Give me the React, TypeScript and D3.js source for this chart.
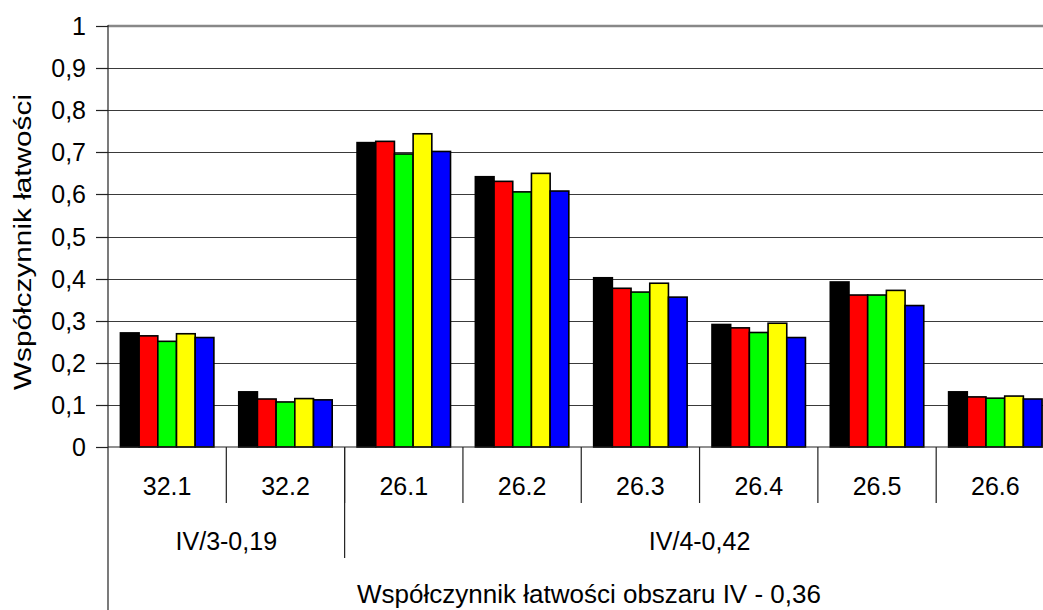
import React from "react";
import * as d3 from "d3";

// -- DATA --
const categories = ["32.1", "32.2", "26.1", "26.2", "26.3", "26.4", "26.5", "26.6"];
const groups = [
  { label: "IV/3-0,19", from: 0, to: 2 },
  { label: "IV/4-0,42", from: 2, to: 8 },
];
const areaLabel = "Współczynnik łatwości obszaru IV - 0,36";
const yTitle = "Współczynnik łatwości";
const seriesNames = ["s1", "s2", "s3", "s4", "s5"];
const seriesColors = ["#000000", "#ff0000", "#00ff00", "#ffff00", "#0000ff"];
const s1 = [0.271, 0.131, 0.723, 0.642, 0.402, 0.291, 0.392, 0.131];
const s2 = [0.264, 0.114, 0.726, 0.631, 0.377, 0.283, 0.361, 0.119];
const s3 = [0.251, 0.107, 0.696, 0.606, 0.368, 0.272, 0.361, 0.116];
const s4 = [0.269, 0.115, 0.744, 0.65, 0.389, 0.294, 0.372, 0.121];
const s5 = [0.26, 0.112, 0.702, 0.608, 0.356, 0.26, 0.336, 0.114];
const seriesValues = [s1, s2, s3, s4, s5];
const yTicks = [0, 0.1, 0.2, 0.3, 0.4, 0.5, 0.6, 0.7, 0.8, 0.9, 1];

const FONT = "'Liberation Sans', Arial, sans-serif";

const App = () => {
  const svgRef = React.useRef(null);
  const width = 1043;
  const height = 610;

  React.useEffect(() => {
    document.body.style.margin = "0";
    const svg = d3.select(svgRef.current);
    svg.selectAll("*").remove();

    // plot box; the right side runs past the picture edge
    const left = 108;
    const top = 26;
    const bottom = 447;
    const right = 1054.5;

    const y = d3.scaleLinear().domain([0, 1]).range([bottom, top]);
    const x0 = d3
      .scaleBand()
      .domain(categories)
      .range([left, right])
      .paddingInner(0.21)
      .paddingOuter(0.105);
    const x1 = d3.scaleBand().domain(seriesNames).range([0, x0.bandwidth()]);
    const step = x0.step();
    const edge = (i) => left + i * step; // category boundary

    // gridlines
    svg
      .append("g")
      .selectAll("line")
      .data(yTicks.filter((t) => t > 0 && t < 1))
      .enter()
      .append("line")
      .attr("x1", left)
      .attr("x2", width)
      .attr("y1", (d) => Math.round(y(d)) + 0.5)
      .attr("y2", (d) => Math.round(y(d)) + 0.5)
      .style("stroke", "#3a3a3a")
      .style("stroke-width", 1);
    // top border
    svg
      .append("line")
      .attr("x1", left)
      .attr("x2", width)
      .attr("y1", top)
      .attr("y2", top)
      .style("stroke", "#888")
      .style("stroke-width", 2.5);

    // bars
    const bars = [];
    categories.forEach((c, ci) => {
      seriesNames.forEach((s, si) => {
        bars.push({ c, s, si, v: seriesValues[si][ci] });
      });
    });
    svg
      .append("g")
      .selectAll("rect")
      .data(bars)
      .enter()
      .append("rect")
      .attr("x", (d) => x0(d.c) + x1(d.s))
      .attr("y", (d) => y(d.v))
      .attr("width", x1.bandwidth())
      .attr("height", (d) => bottom - y(d.v))
      .style("fill", (d) => seriesColors[d.si])
      .style("stroke", "#000")
      .style("stroke-width", 1.6);

    // axes
    const ax = svg.append("g").style("stroke", "#222").style("stroke-width", 1.2);
    ax.append("line").attr("x1", left).attr("x2", left).attr("y1", top - 1).attr("y2", height);
    ax.append("line").attr("x1", left).attr("x2", width).attr("y1", bottom).attr("y2", bottom);
    ax.selectAll("tick")
      .data(yTicks)
      .enter()
      .append("line")
      .attr("x1", left - 12)
      .attr("x2", left)
      .attr("y1", (d) => Math.round(y(d)) + 0.5)
      .attr("y2", (d) => Math.round(y(d)) + 0.5);
    // category dividers
    ax.selectAll("div1")
      .data(d3.range(1, categories.length + 1))
      .enter()
      .append("line")
      .attr("x1", (i) => edge(i))
      .attr("x2", (i) => edge(i))
      .attr("y1", bottom)
      .attr("y2", 503);
    ax.selectAll("div2")
      .data(groups.map((g) => g.to))
      .enter()
      .append("line")
      .attr("x1", (i) => edge(i))
      .attr("x2", (i) => edge(i))
      .attr("y1", bottom)
      .attr("y2", 558);

    // text
    const txt = svg
      .append("g")
      .style("font-family", FONT)
      .style("font-size", "25px")
      .style("fill", "#000");
    txt.selectAll("ylab")
      .data(yTicks)
      .enter()
      .append("text")
      .attr("x", 86)
      .attr("y", (d) => y(d))
      .attr("dy", "0.36em")
      .attr("text-anchor", "end")
      .text((d) => (d === 0 || d === 1 ? String(d) : d3.format(".1f")(d).replace(".", ",")));
    txt.selectAll("xlab")
      .data(categories)
      .enter()
      .append("text")
      .attr("x", (d) => x0(d) + x0.bandwidth() / 2)
      .attr("y", 495)
      .attr("text-anchor", "middle")
      .text((d) => d);
    txt.selectAll("glab")
      .data(groups)
      .enter()
      .append("text")
      .attr("x", (g) => (edge(g.from) + edge(g.to)) / 2)
      .attr("y", 550)
      .attr("text-anchor", "middle")
      .text((g) => g.label);
    txt.append("text")
      .attr("x", 589)
      .attr("y", 603)
      .attr("text-anchor", "middle")
      .style("font-size", "26px")
      .text(areaLabel);
    txt.append("text")
      .attr("transform", `translate(31, 242) rotate(-90)`)
      .attr("text-anchor", "middle")
      .attr("textLength", 296)
      .attr("lengthAdjust", "spacingAndGlyphs")
      .style("font-size", "23px")
      .text(yTitle);
  }, []);

  return <svg ref={svgRef} width={width} height={height} style={{ display: "block", background: "#fff" }} />;
};

export default App;
